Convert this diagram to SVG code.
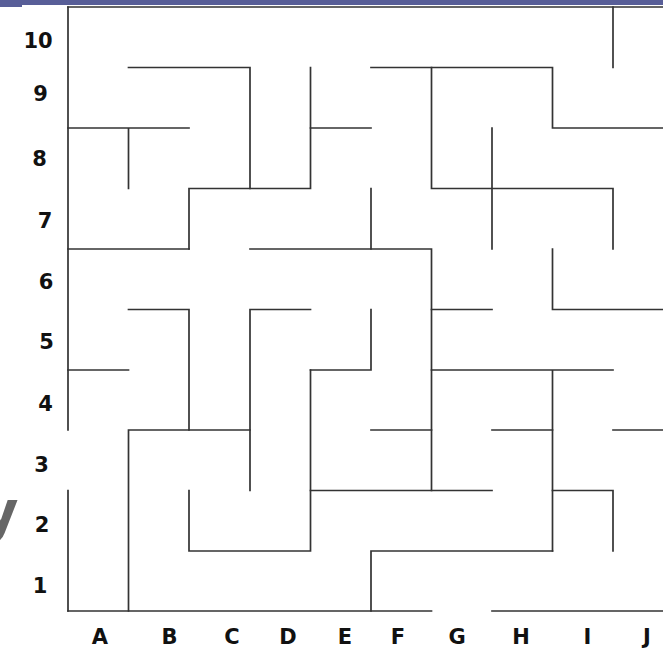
<svg xmlns="http://www.w3.org/2000/svg" width="663" height="648" viewBox="0 0 663 648">
<style>
.w{fill:none;stroke:#333;stroke-width:1.7;stroke-linecap:square}
.lb{font-family:"DejaVu Sans","Liberation Sans",sans-serif;font-weight:bold;font-size:21px;fill:#111;text-anchor:middle}
</style>
<rect x="0" y="0" width="663" height="648" fill="#fff"/>
<rect x="0" y="0" width="663" height="5" fill="#585e98"/>
<rect x="0" y="0" width="22" height="7" fill="#585e98"/>
<text x="-18" y="530" font-family="DejaVu Sans, sans-serif" font-weight="bold" font-size="56" fill="#666">y</text>
<g id="maze">
<path class="w" d="M68 7H663"/>
<path class="w" d="M68 7V430M68 490.5V611"/>
<path class="w" d="M68 611H431.5M492 611H663"/>
<path class="w" d="M128.5 67.5H250V188.5"/>
<path class="w" d="M189 249V188.5H310.5V67.5"/>
<path class="w" d="M68 249H189"/>
<path class="w" d="M310.5 128H371"/>
<path class="w" d="M371 67.5H552.5V128H663"/>
<path class="w" d="M431.5 67.5V188.5H613V249"/>
<path class="w" d="M492 128V249"/>
<path class="w" d="M613 7V67.5"/>
<path class="w" d="M68 128H189M128.5 128V188.5"/>
<path class="w" d="M371 188.5V249"/>
<path class="w" d="M250 249H431.5V490.5"/>
<path class="w" d="M431.5 309.5H492"/>
<path class="w" d="M552.5 249V309.5H663"/>
<path class="w" d="M431.5 370H613M552.5 370V551"/>
<path class="w" d="M492 430H552.5M613 430H663"/>
<path class="w" d="M371 430H431.5"/>
<path class="w" d="M310.5 490.5H492"/>
<path class="w" d="M552.5 490.5H613V551"/>
<path class="w" d="M371 611V551H552.5"/>
<path class="w" d="M310.5 370V551H189V490.5"/>
<path class="w" d="M310.5 370H371V309.5"/>
<path class="w" d="M310.5 309.5H250V490.5"/>
<path class="w" d="M250 430H128.5V611"/>
<path class="w" d="M128.5 309.5H189V430"/>
<path class="w" d="M68 370H128.5"/>
</g>
<g id="row-labels">
<text class="lb" x="38" y="48">10</text>
<text class="lb" x="40.5" y="101">9</text>
<text class="lb" x="39.5" y="166">8</text>
<text class="lb" x="45" y="228">7</text>
<text class="lb" x="46" y="289">6</text>
<text class="lb" x="46.5" y="349">5</text>
<text class="lb" x="45.5" y="411">4</text>
<text class="lb" x="41.5" y="472">3</text>
<text class="lb" x="42" y="532">2</text>
<text class="lb" x="40" y="593">1</text>
</g>
<g id="col-labels">
<text class="lb" x="100" y="644">A</text>
<text class="lb" x="169.5" y="644">B</text>
<text class="lb" x="232" y="644">C</text>
<text class="lb" x="288" y="644">D</text>
<text class="lb" x="345" y="644">E</text>
<text class="lb" x="398" y="644">F</text>
<text class="lb" x="457" y="644">G</text>
<text class="lb" x="521" y="644">H</text>
<text class="lb" x="587.5" y="644">I</text>
<text class="lb" x="647" y="644">J</text>
</g>
</svg>
